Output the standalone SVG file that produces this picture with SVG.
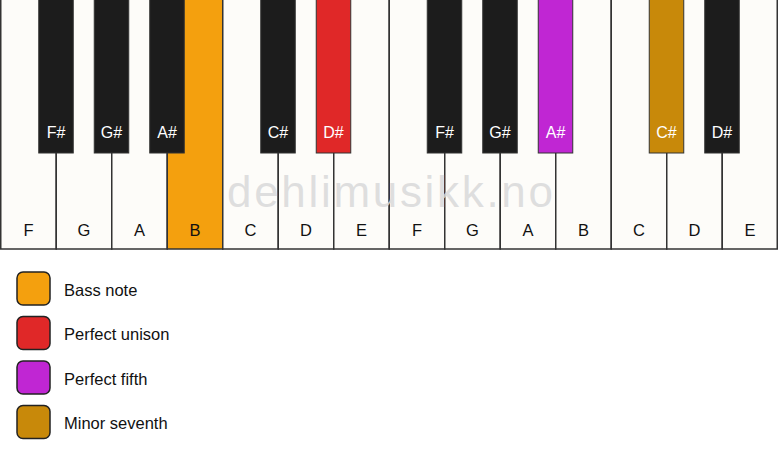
<svg xmlns="http://www.w3.org/2000/svg" width="778" height="461" viewBox="0 0 778 461">
<style>
.w{fill:#fdfcf9;stroke:#333;stroke-width:1.5}
.b{fill:#1c1c1c;stroke:#333;stroke-width:1}
.wl{font-family:"Liberation Sans",Arial,sans-serif;font-size:16.5px;fill:#111;text-anchor:middle}
.bl{font-family:"Liberation Sans",Arial,sans-serif;font-size:16px;fill:#fff;text-anchor:middle}
.lg{stroke:#222;stroke-width:1.5}
.lt{font-family:"Liberation Sans",Arial,sans-serif;font-size:16.5px;fill:#111}
</style>
<rect width="778" height="461" fill="#fff"/>
<g id="white-keys">
<g id="wk-F1"><rect class="w" x="0.75" y="-2" width="55.5" height="251"/><text class="wl" x="28.5" y="236">F</text></g>
<g id="wk-G1"><rect class="w" x="56.25" y="-2" width="55.5" height="251"/><text class="wl" x="84" y="236">G</text></g>
<g id="wk-A1"><rect class="w" x="111.75" y="-2" width="55.5" height="251"/><text class="wl" x="139.5" y="236">A</text></g>
<g id="wk-B1"><rect class="w" style="fill:#f4a00e" x="167.25" y="-2" width="55.5" height="251"/><text class="wl" x="195" y="236">B</text></g>
<g id="wk-C1"><rect class="w" x="222.75" y="-2" width="55.5" height="251"/><text class="wl" x="250.5" y="236">C</text></g>
<g id="wk-D1"><rect class="w" x="278.25" y="-2" width="55.5" height="251"/><text class="wl" x="306" y="236">D</text></g>
<g id="wk-E1"><rect class="w" x="333.75" y="-2" width="55.5" height="251"/><text class="wl" x="361.5" y="236">E</text></g>
<g id="wk-F2"><rect class="w" x="389.25" y="-2" width="55.5" height="251"/><text class="wl" x="417" y="236">F</text></g>
<g id="wk-G2"><rect class="w" x="444.75" y="-2" width="55.5" height="251"/><text class="wl" x="472.5" y="236">G</text></g>
<g id="wk-A2"><rect class="w" x="500.25" y="-2" width="55.5" height="251"/><text class="wl" x="528" y="236">A</text></g>
<g id="wk-B2"><rect class="w" x="555.75" y="-2" width="55.5" height="251"/><text class="wl" x="583.5" y="236">B</text></g>
<g id="wk-C2"><rect class="w" x="611.25" y="-2" width="55.5" height="251"/><text class="wl" x="639" y="236">C</text></g>
<g id="wk-D2"><rect class="w" x="666.75" y="-2" width="55.5" height="251"/><text class="wl" x="694.5" y="236">D</text></g>
<g id="wk-E2"><rect class="w" x="722.25" y="-2" width="55" height="251"/><text class="wl" x="750" y="236">E</text></g>
</g>
<text id="watermark" x="390" y="207" font-family="'Liberation Sans',Arial,sans-serif" font-size="44" fill="#d9d9d9" fill-opacity="0.85" text-anchor="middle" textLength="326" lengthAdjust="spacing">dehlimusikk.no</text>
<g id="black-keys">
<g id="bk-Fs1"><rect class="b" x="38.75" y="-2" width="34.5" height="155"/><text class="bl" x="56" y="138">F#</text></g>
<g id="bk-Gs1"><rect class="b" x="94.25" y="-2" width="34.5" height="155"/><text class="bl" x="111.5" y="138">G#</text></g>
<g id="bk-As1"><rect class="b" x="149.75" y="-2" width="34.5" height="155"/><text class="bl" x="167" y="138">A#</text></g>
<g id="bk-Cs1"><rect class="b" x="260.75" y="-2" width="34.5" height="155"/><text class="bl" x="278" y="138">C#</text></g>
<g id="bk-Ds1"><rect class="b" style="fill:#e02828" x="316.25" y="-2" width="34.5" height="155"/><text class="bl" x="333.5" y="138">D#</text></g>
<g id="bk-Fs2"><rect class="b" x="427.25" y="-2" width="34.5" height="155"/><text class="bl" x="444.5" y="138">F#</text></g>
<g id="bk-Gs2"><rect class="b" x="482.75" y="-2" width="34.5" height="155"/><text class="bl" x="500" y="138">G#</text></g>
<g id="bk-As2"><rect class="b" style="fill:#c026d3" x="538.25" y="-2" width="34.5" height="155"/><text class="bl" x="555.5" y="138">A#</text></g>
<g id="bk-Cs2"><rect class="b" style="fill:#c8890a" x="649.25" y="-2" width="34.5" height="155"/><text class="bl" x="666.5" y="138">C#</text></g>
<g id="bk-Ds2"><rect class="b" x="704.75" y="-2" width="34.5" height="155"/><text class="bl" x="722" y="138">D#</text></g>
</g>
<g id="legend">
<g id="lg-bass"><rect class="lg" x="17" y="272" width="33" height="33" rx="6" fill="#f4a00e"/><text class="lt" x="64" y="295.5">Bass note</text></g>
<g id="lg-unison"><rect class="lg" x="17" y="316.5" width="33" height="33" rx="6" fill="#e02828"/><text class="lt" x="64" y="340">Perfect unison</text></g>
<g id="lg-fifth"><rect class="lg" x="17" y="361" width="33" height="33" rx="6" fill="#c026d3"/><text class="lt" x="64" y="384.5">Perfect fifth</text></g>
<g id="lg-seventh"><rect class="lg" x="17" y="405.5" width="33" height="33" rx="6" fill="#c8890a"/><text class="lt" x="64" y="429">Minor seventh</text></g>
</g>
<g id="connectors"/>
</svg>
